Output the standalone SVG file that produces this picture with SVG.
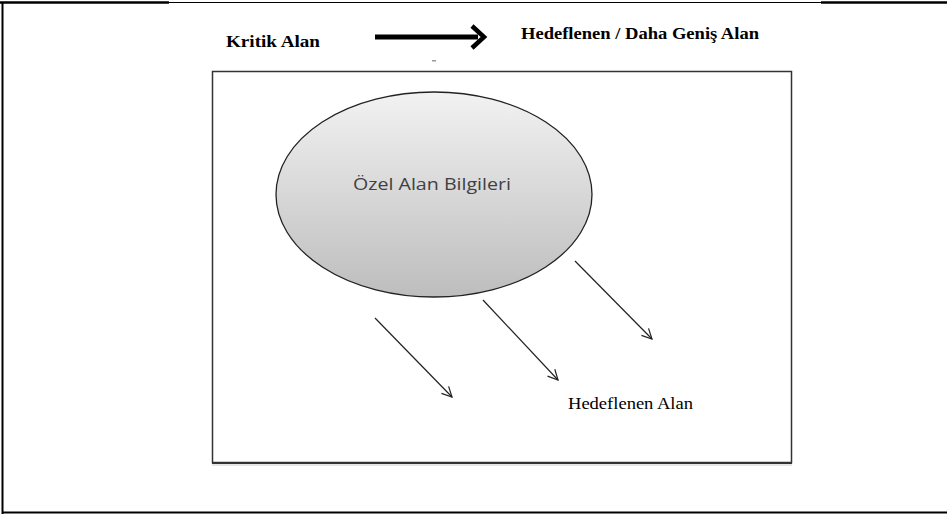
<svg xmlns="http://www.w3.org/2000/svg" width="947" height="514" viewBox="0 0 947 514">
  <style>
    .frame { fill: none; stroke: #000; }
    .box { fill: none; stroke: #333; stroke-width: 1.5; }
    .head { font-family: "Liberation Serif", "Times New Roman", serif; font-weight: bold; font-size: 16px; fill: #000; }
    .label { font-family: "Liberation Serif", "Times New Roman", serif; font-size: 16px; fill: #000; }
    .inner { font-family: "Open Sans", "Liberation Sans", sans-serif; font-size: 16px; fill: #404040; }
    .conn { stroke: #222; stroke-width: 1.2; fill: none; marker-end: url(#open); }
  </style>
  <defs>
    <linearGradient id="bubble" x1="0" y1="0" x2="0" y2="1">
      <stop offset="0" stop-color="#f2f2f2"/>
      <stop offset="1" stop-color="#bdbdbd"/>
    </linearGradient>
    <marker id="open" viewBox="0 0 12 12" refX="11" refY="6" markerWidth="12" markerHeight="12" markerUnits="userSpaceOnUse" orient="auto">
      <path d="M1,1 L11,6 L1,11" fill="none" stroke="#222" stroke-width="1.2"/>
    </marker>
  </defs>

  <rect width="947" height="514" fill="#fff"/>

  <!-- page frame -->
  <g id="page-frame">
    <line x1="0" y1="2.5" x2="169" y2="2.5" class="frame" stroke-width="2.5"/>
    <line x1="169" y1="2.5" x2="821" y2="2.5" class="frame" stroke-width="1"/>
    <line x1="821" y1="2.5" x2="947" y2="2.5" class="frame" stroke-width="2.5"/>
    <line x1="2.5" y1="2" x2="2.5" y2="514" class="frame" stroke-width="2"/>
    <line x1="2" y1="512.5" x2="947" y2="512.5" class="frame" stroke-width="2"/>
  </g>

  <!-- heading row -->
  <g id="kritik-alan">
    <text x="226" y="47" class="head" textLength="94" lengthAdjust="spacingAndGlyphs">Kritik Alan</text>
  </g>
  <g id="direction-arrow">
    <line x1="375" y1="37" x2="478" y2="37" stroke="#000" stroke-width="5"/>
    <path d="M472,26 L484,37 L472,48" fill="none" stroke="#000" stroke-width="4.5" stroke-linejoin="miter"/>
    <rect x="432" y="60" width="4" height="1.5" fill="#999"/>
  </g>
  <g id="genis-alan">
    <text x="521" y="39" class="head" textLength="238" lengthAdjust="spacingAndGlyphs">Hedeflenen / Daha Geniş Alan</text>
  </g>

  <!-- target area box -->
  <g id="hedef-kutu">
    <rect x="212.5" y="71.5" width="579" height="391" class="box"/>
    <line x1="212" y1="463" x2="792" y2="463" stroke="#333" stroke-width="2"/>
    <line x1="212" y1="465" x2="792" y2="465" stroke="#ccc" stroke-width="1"/>
  </g>

  <!-- specialised knowledge bubble -->
  <g id="ozel-alan">
    <ellipse cx="434" cy="194.5" rx="158" ry="102.5" fill="url(#bubble)" stroke="#222" stroke-width="1.3"/>
    <text x="432" y="190" class="inner" text-anchor="middle" textLength="158" lengthAdjust="spacingAndGlyphs">Özel Alan Bilgileri</text>
  </g>

  <g id="hedef-etiket">
    <text x="568" y="409" class="label" textLength="125" lengthAdjust="spacingAndGlyphs">Hedeflenen Alan</text>
  </g>

  <!-- spreading arrows -->
  <g id="connectors">
    <line x1="375" y1="318" x2="452" y2="397" class="conn"/>
    <line x1="483" y1="300" x2="558" y2="380" class="conn"/>
    <line x1="575" y1="261" x2="652" y2="339" class="conn"/>
  </g>
</svg>
